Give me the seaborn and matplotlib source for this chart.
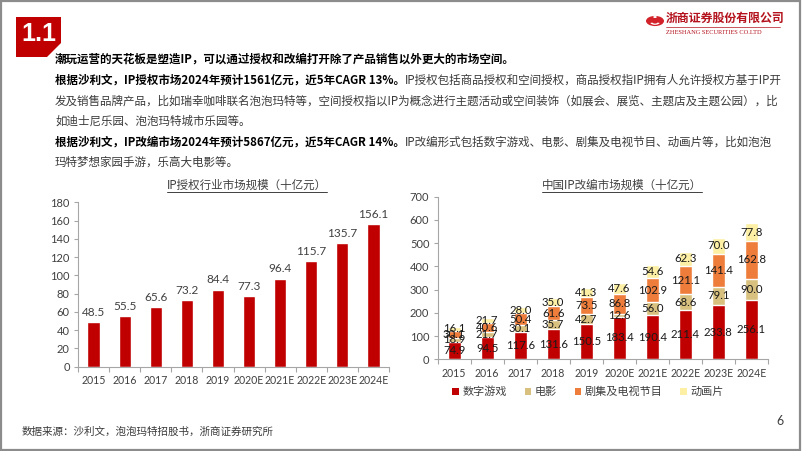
import numpy as np
import pandas as pd
import matplotlib
matplotlib.use("Agg")
import matplotlib.pyplot as plt
import seaborn as sns
from matplotlib.patches import Polygon, Rectangle, Circle, Patch, Wedge
from matplotlib.lines import Line2D

# ---------------- data ----------------
years = ["2015", "2016", "2017", "2018", "2019", "2020E", "2021E", "2022E", "2023E", "2024E"]
licensing = [48.5, 55.5, 65.6, 73.2, 84.4, 77.3, 96.4, 115.7, 135.7, 156.1]

games = [74.9, 94.5, 117.6, 131.6, 150.5, 183.4, 190.4, 211.4, 233.8, 256.1]
film = [18.9, 21.7, 30.1, 35.7, 42.7, 12.6, 56.0, 68.6, 79.1, 90.0]
tv = [30.1, 40.6, 50.4, 61.6, 73.5, 86.8, 102.9, 121.1, 141.4, 162.8]
animation = [16.1, 21.7, 28.0, 35.0, 41.3, 47.6, 54.6, 62.3, 70.0, 77.8]
series_names = ["数字游戏", "电影", "剧集及电视节目", "动画片"]

left_title = "IP授权行业市场规模（十亿元）"
right_title = "中国IP改编市场规模（十亿元）"

# ---------------- style ----------------
sns.set_theme(style="white")
CJK = ['Noto Sans CJK SC', 'DejaVu Sans']
NUM = ['Lato', 'Noto Sans CJK SC', 'DejaVu Sans']
plt.rcParams['font.family'] = CJK

RED = "#C00000"
C_GAME = "#C00000"
C_FILM = "#D8C07E"
C_TV = "#EE7D3B"
C_ANIM = "#FDF0A4"
AXC = "#A6A6A6"
TXT = "#404040"

W, H = 802, 451
fig = plt.figure(figsize=(W / 100, H / 100), dpi=100)


def fx(x):
    return x / W


def fy(y):
    return 1 - y / H


renderer = fig.canvas.get_renderer()

# frame border
fig.patches.append(Rectangle((0.001, 0.002), 0.997, 0.996, transform=fig.transFigure,
                             fill=False, edgecolor="#8C8C8C", lw=1.6))

# badge "1.1"
badge = [(16, 17), (61, 17), (61, 43), (47, 57), (16, 57)]
fig.patches.append(Polygon([(fx(a), fy(b)) for a, b in badge], closed=True,
                           transform=fig.transFigure, facecolor=RED, edgecolor="none"))
fig.text(fx(38.5), fy(34), "1.1", color="white", fontsize=18, fontweight="bold",
         family=['Liberation Sans', 'DejaVu Sans'], ha="center", va="center")

# logo
fig.patches.append(Circle((fx(655), fy(21)), 9 / W, transform=fig.transFigure,
                          facecolor="#D2232A", edgecolor="none"))
fig.patches.append(Wedge((fx(655), fy(22)), 5 / W, 200, 340, width=2.2 / W,
                         transform=fig.transFigure, facecolor="white", edgecolor="none"))
fig.patches.append(Circle((fx(655), fy(17)), 1.8 / W, transform=fig.transFigure,
                          facecolor="white", edgecolor="none"))
fig.text(fx(666), fy(18), "浙商证券股份有限公司", color="#B3121C", fontsize=8.6,
         fontweight="bold", ha="left", va="center")
fig.text(fx(666), fy(32), "ZHESHANG SECURITIES CO.LTD", color="#B3121C", fontsize=4.6,
         family=['Liberation Serif', 'DejaVu Serif'], ha="left", va="center")
fig.lines.append(Line2D([fx(666), fx(780)], [fy(27), fy(27)], transform=fig.transFigure,
                        color="#B3121C", lw=0.5))

# body text
FS = 8.3


def put_line(x, y, parts):
    cur = x
    for txt, bold in parts:
        t = fig.text(fx(cur), fy(y), txt, fontsize=FS,
                     fontweight="bold" if bold else "normal",
                     color="#000000" if bold else "#3A3A3A", ha="left", va="center")
        bb = t.get_window_extent(renderer=renderer)
        cur += bb.width


put_line(55, 59, [("潮玩运营的天花板是塑造IP，可以通过授权和改编打开除了产品销售以外更大的市场空间。", True)])
put_line(55, 80, [("根据沙利文，IP授权市场2024年预计1561亿元，近5年CAGR 13%。", True),
                  ("IP授权包括商品授权和空间授权，商品授权指IP拥有人允许授权方基于IP开", False)])
put_line(55, 101, [("发及销售品牌产品，比如瑞幸咖啡联名泡泡玛特等，空间授权指以IP为概念进行主题活动或空间装饰（如展会、展览、主题店及主题公园），比", False)])
put_line(55, 121, [("如迪士尼乐园、泡泡玛特城市乐园等。", False)])
put_line(55, 142, [("根据沙利文，IP改编市场2024年预计5867亿元，近5年CAGR 14%。", True),
                   ("IP改编形式包括数字游戏、电影、剧集及电视节目、动画片等，比如泡泡", False)])
put_line(55, 162, [("玛特梦想家园手游，乐高大电影等。", False)])


def underlined_title(xc, y, s):
    t = fig.text(fx(xc), fy(y), s, fontsize=8.3, color=TXT, ha="center", va="center")
    bb = t.get_window_extent(renderer=renderer)
    fig.lines.append(Line2D([bb.x0 / W, bb.x1 / W], [fy(y + 7.5), fy(y + 7.5)],
                            transform=fig.transFigure, color=TXT, lw=0.7))


underlined_title(247, 185, left_title)
underlined_title(622, 185, right_title)


def style_axis(ax, ymax, ystep):
    ax.set_xlim(-0.5, len(years) - 0.5)
    ax.set_ylim(0, ymax)
    ax.set_yticks(np.arange(0, ymax + 1, ystep))
    for s in ["top", "right"]:
        ax.spines[s].set_visible(False)
    for s in ["left", "bottom"]:
        ax.spines[s].set_color(AXC)
        ax.spines[s].set_linewidth(0.8)
    ax.set_xlabel("")
    ax.set_ylabel("")
    ax.tick_params(axis="y", left=True, length=3, width=0.8, color=AXC,
                   labelsize=8, labelcolor=TXT, pad=3)
    ax.tick_params(axis="x", which="major", bottom=False, length=0,
                   labelsize=7.6, labelcolor=TXT, pad=6)
    ax.set_xticks(np.arange(-0.5, len(years), 1), minor=True)
    ax.tick_params(axis="x", which="minor", bottom=True, length=3.5, width=0.8, color=AXC)
    for lab in ax.get_xticklabels() + ax.get_yticklabels():
        lab.set_fontfamily(NUM)
    ax.grid(False)
    ax.set_facecolor("none")


# ---------------- left chart ----------------
axL = fig.add_axes([fx(78), fy(366.7), 311 / W, 164.4 / H])
dfL = pd.DataFrame({"year": years, "value": licensing})
sns.barplot(data=dfL, x="year", y="value", order=years, color=RED, saturation=1,
            width=0.39, ax=axL, errorbar=None)
style_axis(axL, 180, 20)
for i, v in enumerate(licensing):
    axL.annotate(f"{v:.1f}", (i, v), xytext=(0, 7), textcoords="offset points",
                 ha="center", va="center", fontsize=8.5, family=NUM, color=TXT)

# ---------------- right chart ----------------
axR = fig.add_axes([fx(437.7), fy(359.3), 330 / W, 162.6 / H])
c1 = np.array(games)
c2 = c1 + np.array(film)
c3 = c2 + np.array(tv)
c4 = c3 + np.array(animation)
dfR = pd.DataFrame({"year": years, "c1": c1, "c2": c2, "c3": c3, "c4": c4})
for col, colr in [("c4", C_ANIM), ("c3", C_TV), ("c2", C_FILM), ("c1", C_GAME)]:
    sns.barplot(data=dfR, x="year", y=col, order=years, color=colr, saturation=1,
                width=0.4, ax=axR, errorbar=None)
style_axis(axR, 700, 100)
bottoms = [np.zeros(len(years)), c1, c2, c3]
vals = [games, film, tv, animation]
for b, v in zip(bottoms, vals):
    for i in range(len(years)):
        axR.text(i, b[i] + v[i] / 2, f"{v[i]:.1f}", ha="center", va="center",
                 fontsize=8.2, family=NUM, color="#1A1A1A")

handles = [Patch(facecolor=c, edgecolor="none") for c in [C_GAME, C_FILM, C_TV, C_ANIM]]
fig.legend(handles=handles, labels=series_names, loc="center",
           bbox_to_anchor=(fx(588), fy(392)), ncol=4, frameon=False, fontsize=8,
           handlelength=0.6, handleheight=0.6, handletextpad=0.3, columnspacing=1.6,
           labelcolor=TXT)

# footer
fig.text(fx(22), fy(432), "数据来源：沙利文，泡泡玛特招股书，浙商证券研究所", fontsize=7.6,
         color="#3A3A3A", ha="left", va="center")
fig.text(fx(780), fy(421), "6", fontsize=9, color="#404040", ha="center", va="center",
         family=NUM)

fig.savefig("out.png", dpi=100)
